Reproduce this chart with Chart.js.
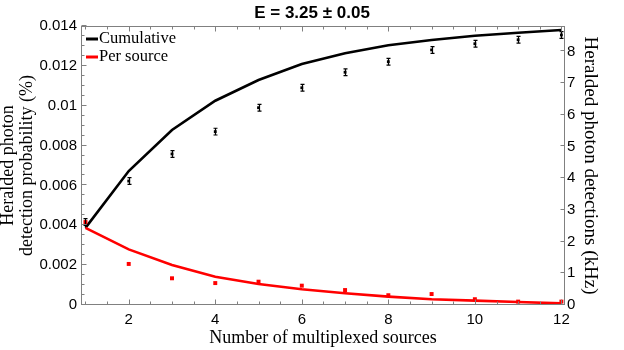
<!DOCTYPE html>
<html><head><meta charset="utf-8">
<script src="https://cdn.jsdelivr.net/npm/chart.js@4.4.1/dist/chart.umd.min.js"></script>
<style>html,body{margin:0;padding:0;background:#fff;} #wrap{width:624px;height:350px;}</style>
</head><body><div id="wrap"><canvas id="c" width="624" height="350"></canvas></div>
<script>
// ---- data ----
const sources = [1, 2, 3, 4, 5, 6, 7, 8, 9, 10, 11, 12];
const cumulativeTheory = [0.00387, 0.00672, 0.00878, 0.01025, 0.01129, 0.01209, 0.01263, 0.01303, 0.0133, 0.01351, 0.01366, 0.0138];
const perSourceTheory = [0.00387, 0.00279, 0.00201, 0.00142, 0.00105, 0.00079, 0.00059, 0.00042, 0.00029, 0.00022, 0.00015, 0.00008];
const cumulativeMeasured = [0.00416, 0.00622, 0.00758, 0.0087, 0.0099, 0.0109, 0.01168, 0.01221, 0.0128, 0.01311, 0.01331, 0.01355];
const cumulativeError = [0.00017, 0.00017, 0.00017, 0.00017, 0.00017, 0.00017, 0.00017, 0.00017, 0.00017, 0.00017, 0.00017, 0.00017];
const perSourceMeasured = [0.00416, 0.00206, 0.00134, 0.0011, 0.00117, 0.00097, 0.00075, 0.00049, 0.00055, 0.00029, 0.00017, 0.00017];
const xTickValues = [2, 4, 6, 8, 10, 12];
const yTickLabels = ['0', '0.002', '0.004', '0.006', '0.008', '0.01', '0.012', '0.014'];
const y2TickLabels = ['0', '1', '2', '3', '4', '5', '6', '7', '8'];
const seriesNames = ['Cumulative', 'Per source'];
const titleText = 'E = 3.25 \u00b1 0.05';

const pts = arr => sources.map((s, i) => ({x: s, y: arr[i]}));
const SANS = 'Liberation Sans';
const SERIF = 'Liberation Serif';
const AXIS = '#808080';

const decor = {
  id: 'decor',
  afterDraw(chart) {
    const {ctx, chartArea: a, scales} = chart;
    const x = scales.x, y = scales.y, y2 = scales.y2;
    const L = a.left - 0.5, R = Math.round(a.right) + 0.5, T = Math.round(a.top) + 0.5, B = Math.round(a.bottom) - 0.5;
    ctx.save();
    // error bars of the cumulative measurements
    ctx.strokeStyle = '#000'; ctx.lineWidth = 1.2;
    sources.forEach((s, i) => {
      const px = Math.round(x.getPixelForValue(s)) + 0.5;
      const t = y.getPixelForValue(cumulativeMeasured[i] + cumulativeError[i]);
      const b = y.getPixelForValue(cumulativeMeasured[i] - cumulativeError[i]);
      ctx.beginPath();
      ctx.moveTo(px, t); ctx.lineTo(px, b);
      ctx.moveTo(px - 2, t); ctx.lineTo(px + 2, t);
      ctx.moveTo(px - 2, b); ctx.lineTo(px + 2, b);
      ctx.stroke();
    });
    // frame
    ctx.strokeStyle = AXIS; ctx.lineWidth = 1;
    ctx.strokeRect(L, T, R - L, B - T);
    // inward ticks
    ctx.beginPath();
    for (let v = 0; v <= 0.01400001; v += 0.0005) {
      const major = Math.abs(v / 0.002 - Math.round(v / 0.002)) < 1e-6;
      const py = Math.round(y.getPixelForValue(v)) - 0.5;
      ctx.moveTo(L, py); ctx.lineTo(L + (major ? 5 : 3), py);
    }
    for (let k = 0; k <= 8; k++) {
      const py = Math.round(y2.getPixelForValue(k)) - 0.5;
      ctx.moveTo(R, py); ctx.lineTo(R - 4, py);
    }
    for (let v = 1; v <= 12.0001; v += 0.5) {
      const major = xTickValues.includes(v);
      const px = Math.round(x.getPixelForValue(v)) + 0.5;
      const len = major ? 5 : 3;
      ctx.moveTo(px, B); ctx.lineTo(px, B - len);
      ctx.moveTo(px, T); ctx.lineTo(px, T + len);
    }
    ctx.stroke();
    // legend
    const legend = [{c: '#000', t: seriesNames[0], yy: 39}, {c: '#ff0000', t: seriesNames[1], yy: 57}];
    ctx.font = '16.5px "' + SERIF + '"';
    ctx.textBaseline = 'middle'; ctx.textAlign = 'left';
    legend.forEach(it => {
      ctx.strokeStyle = it.c; ctx.lineWidth = 3;
      ctx.beginPath(); ctx.moveTo(a.left + 4, it.yy); ctx.lineTo(a.left + 16, it.yy); ctx.stroke();
      ctx.fillStyle = '#000';
      ctx.fillText(it.t, a.left + 17, it.yy);
    });
    ctx.restore();
  }
};

new Chart(document.getElementById('c'), {
  type: 'scatter',
  data: {
    datasets: [
      {label: 'Per source (measured)', data: pts(perSourceMeasured), showLine: false, pointStyle: 'rect',
       pointRadius: 2.8, pointBorderWidth: 0, backgroundColor: '#ff0000', borderColor: '#ff0000', yAxisID: 'y'},
      {label: seriesNames[1], data: pts(perSourceTheory), showLine: true, borderColor: '#ff0000', borderWidth: 2.6,
       pointRadius: 0, tension: 0, yAxisID: 'y'},
      {label: 'Cumulative (measured)', data: pts(cumulativeMeasured), showLine: false, pointStyle: 'rect',
       pointRadius: 2, pointBorderWidth: 0, backgroundColor: '#000', borderColor: '#000', yAxisID: 'y'},
      {label: seriesNames[0], data: pts(cumulativeTheory), showLine: true, borderColor: '#000', borderWidth: 2.6,
       pointRadius: 0, tension: 0, yAxisID: 'y'}
    ]
  },
  options: {
    responsive: false, animation: false, devicePixelRatio: 1,
    layout: {padding: 0},
    plugins: {
      legend: {display: false},
      tooltip: {enabled: false},
      title: {display: true, text: titleText, color: '#000',
              font: {family: SANS, size: 17, weight: 'bold', lineHeight: 1.2}, padding: {top: 2.8, bottom: 2.8}}
    },
    scales: {
      x: {
        type: 'linear', position: 'bottom', min: 0.92, max: 12.06,
        afterBuildTicks: s => { s.ticks = xTickValues.map(v => ({value: v})); },
        afterFit: s => { s.height = 45; },
        grid: {display: false, drawTicks: false}, border: {display: false},
        ticks: {color: '#000', font: {family: SANS, size: 15}, padding: 6, maxRotation: 0, callback: v => String(v)},
        title: {display: true, text: 'Number of multiplexed sources', color: '#000',
                font: {family: SERIF, size: 18, lineHeight: 1.2}, padding: {top: 0, bottom: 1.2}}
      },
      y: {
        type: 'linear', position: 'left', min: 0, max: 0.014,
        afterBuildTicks: s => { s.ticks = yTickLabels.map((l, i) => ({value: i * 0.002})); },
        afterFit: s => { s.width = 82; },
        grid: {display: false, drawTicks: false}, border: {display: false},
        ticks: {color: '#000', font: {family: SANS, size: 15}, padding: 5,
                callback: v => yTickLabels[Math.round(v / 0.002)]},
        title: {display: true, text: ['Heralded photon', 'detection probability (%)'], color: '#000',
                font: {family: SERIF, size: 18, lineHeight: 1.07}, padding: {top: -1.5, bottom: 0}}
      },
      y2: {
        type: 'linear', position: 'right', min: 0, max: 8.8,
        afterBuildTicks: s => { s.ticks = y2TickLabels.map((l, i) => ({value: i})); },
        afterFit: s => { s.width = 60; },
        grid: {display: false, drawTicks: false}, border: {display: false},
        ticks: {color: '#000', font: {family: SANS, size: 15}, padding: 3,
                callback: v => y2TickLabels[Math.round(v)]},
        title: {display: true, text: 'Heralded photon detections (kHz)', color: '#000',
                font: {family: SERIF, size: 19, lineHeight: 1.2}, padding: {top: 23, bottom: 0}}
      }
    }
  },
  plugins: [decor]
});
</script>
</body></html>
